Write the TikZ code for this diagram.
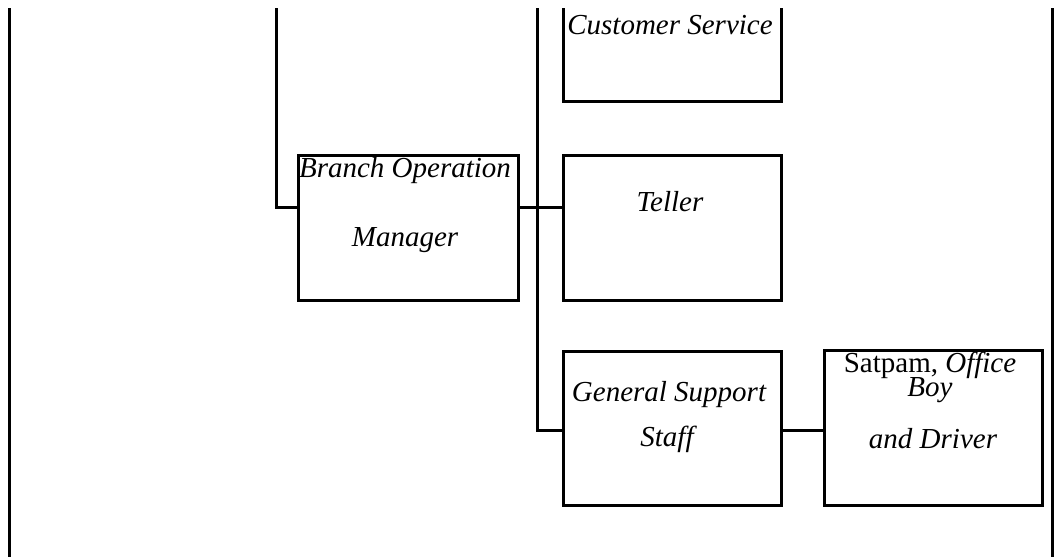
\documentclass[tikz,border=0pt]{standalone}
\usepackage{fontspec}
\setmainfont{Liberation Serif}
\begin{document}
\begin{tikzpicture}[x=1pt,y=-1pt,
  box/.style={draw,line width=3pt,minimum width=#1,inner sep=0pt},
  lbl/.style={anchor=base,inner sep=0pt,font=\fontsize{29}{29}\selectfont\itshape},
  wire/.style={line width=3pt}]
\useasboundingbox (0,0) rectangle (1054,557);
\begin{scope}
\clip (0,8) rectangle (1054,557);
% boxes (corner-defined, centres of strokes)
\node[box=218pt,minimum height=200pt,anchor=south west] (cs) at (562,103) {};
\node[box=220pt,minimum height=145pt,anchor=north west] (bom) at (297,154) {};
\node[box=218pt,minimum height=145pt,anchor=north west] (tel) at (562,154) {};
\node[box=218pt,minimum height=154pt,anchor=north west] (gss) at (562,350) {};
\node[box=218pt,minimum height=155pt,anchor=north west] (sat) at (823,349) {};
% free ends
\coordinate (topA) at (276.5,8);
\coordinate (topB) at (537.5,8);
\coordinate (lt) at (9.5,8);
\coordinate (lb) at (9.5,557);
\coordinate (rt) at (1052,8);
\coordinate (rb) at (1052,557);
% connectors
\draw[wire] (lt) -- (lb);
\draw[wire] (rt) -- (rb);
\draw[wire] (topA) |- (bom.west |- 0,207);
\draw[wire] (bom.east |- 0,207) -- (tel.west |- 0,207);
\draw[wire] (topB) |- (gss.west |- 0,430);
\draw[wire] (gss.east |- 0,430) -- (sat.west |- 0,430);
\end{scope}
% labels
\node[lbl] (cst) at (670,34) {Customer Service};
\node[lbl] (bom1) at (405,177) {Branch Operation};
\node[lbl] (bom2) at (405,246) {Manager};
\node[lbl] (telt) at (670,211) {Teller};
\node[lbl] (gss1) at (669,401) {General Support};
\node[lbl] (gss2) at (667,446) {Staff};
\node[lbl] (sat1) at (930,372) {\upshape Satpam, \itshape Office};
\node[lbl] (sat2) at (930,396) {Boy};
\node[lbl] (sat3) at (933,448) {and Driver};
\end{tikzpicture}
\end{document}
